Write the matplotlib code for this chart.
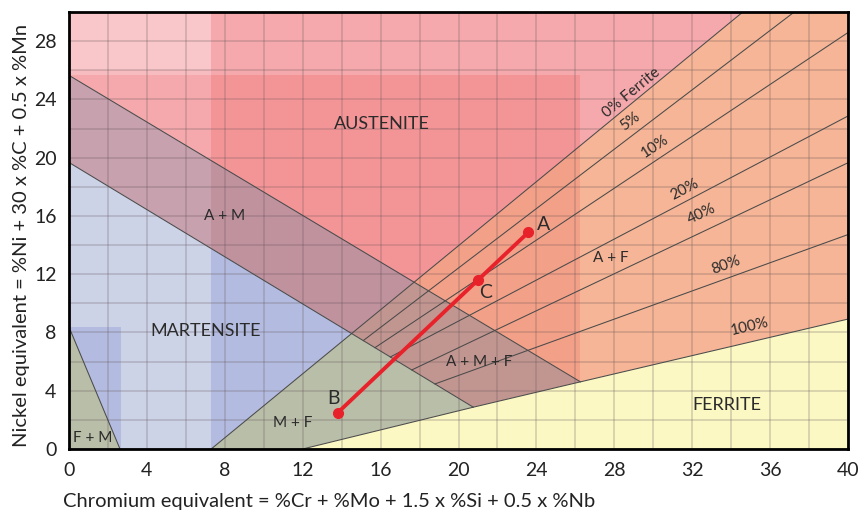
import numpy as np
import matplotlib.pyplot as plt
from matplotlib.patches import Polygon, Rectangle

plt.rcParams['font.family'] = ['Lato', 'DejaVu Sans']

# boundary lines (Cr equivalent, Ni equivalent)
am_top = [(0, 25.65), (26.26, 4.61)]      # upper limit of A + M
m_top = [(0, 19.67), (20.76, 2.87)]       # upper limit of martensite
ferrite0 = [(7.3, 0), (34.6, 30)]         # 0% ferrite line
ferrite100_x = [12, 20.76, 26.26, 40]
ferrite100_y = [0, 2.87, 4.61, 8.92]
fm_edge = [(0, 8.37), (2.62, 0)]

# iso-ferrite lines, start on m_top
iso_names = ['5%', '10%', '20%', '40%', '80%']
iso_start_x = [15.11, 15.71, 16.5, 17.6, 18.79]
iso_end_x = [37.24, 40, 40, 40, 40]
iso_end_y = [30, 28.59, 22.86, 19.65, 14.72]

# weld points
pt_names = ['B', 'C', 'A']
pt_cr = [13.79, 21.02, 23.59]
pt_ni = [2.48, 11.62, 14.88]

x_ticks = list(range(0, 41, 4))
y_ticks = list(range(0, 29, 4))


def line_y(seg, x):
    (x0, y0), (x1, y1) = seg
    return y0 + (y1 - y0) * (x - x0) / (x1 - x0)


def slope(seg):
    (x0, y0), (x1, y1) = seg
    return (y1 - y0) / (x1 - x0)


def cross(s1, s2):
    a1, a2 = slope(s1), slope(s2)
    b1 = s1[0][1] - a1 * s1[0][0]
    b2 = s2[0][1] - a2 * s2[0][0]
    x = (b2 - b1) / (a1 - a2)
    return (x, a1 * x + b1)


fig = plt.figure(figsize=(8.6, 5.15), dpi=100)
ax = fig.add_axes([69 / 860, 1 - 449 / 515, (848 - 69) / 860, (449 - 12) / 515])
ax.set_xlim(0, 40)
ax.set_ylim(0, 30)

p_m0 = cross(m_top, ferrite0)
p_am0 = cross(am_top, ferrite0)
f100 = list(zip(ferrite100_x, ferrite100_y))

dark_box = (7.3, 0, 26.26 - 7.3, 25.65)


def region(pts, base, shades=()):
    ax.add_patch(Polygon(pts, closed=True, fc=base, ec='none', zorder=1))
    for (x0, y0, w, h), c in shades:
        p = Polygon(pts, closed=True, fc=c, ec='none', zorder=1)
        ax.add_patch(p)
        p.set_clip_path(Rectangle((x0, y0), w, h, transform=ax.transData))


# phase fields
region([am_top[0], (0, 30), ferrite0[1], p_am0], '#f5a9ac',
       [((0, 26.0, 7.3, 4), '#f9c6c9'), ((0, 25.65, 7.3, 0.35), '#f7bcbf'),
        (dark_box, '#f39597')])
region([m_top[0], am_top[0], p_am0, p_m0], '#c8a1ae', [(dark_box, '#c0929e')])
region([p_m0, p_am0, am_top[1], m_top[1]], '#c29690')
region([p_am0, ferrite0[1], (40, 30), (40, ferrite100_y[-1]), am_top[1]], '#f5b596',
       [(dark_box, '#f2a088')])
region([(0, 0), m_top[0], p_m0, ferrite0[0]], '#cdd3e7',
       [(dark_box, '#b3bce0'), ((0, 0, 2.65, 8.4), '#b3bce0')])
region([ferrite0[0], p_m0, m_top[1], (12, 0)], '#b9bea8')
region([(0, 0), fm_edge[0], fm_edge[1]], '#b9bea8')
region(f100 + [(40, 0)], '#fbf8c4')

# boundary lines
lc = '#4a4a4a'
lw = 0.75
for seg in [am_top, m_top, ferrite0, fm_edge]:
    ax.plot([seg[0][0], seg[1][0]], [seg[0][1], seg[1][1]], color=lc, lw=lw, zorder=2)
ax.plot(ferrite100_x, ferrite100_y, color=lc, lw=lw, zorder=2)
for sx, ex, ey in zip(iso_start_x, iso_end_x, iso_end_y):
    ax.plot([sx, ex], [line_y(m_top, sx), ey], color=lc, lw=lw, zorder=2)

# grid
ax.set_xticks(x_ticks)
ax.set_yticks(y_ticks)
ax.set_xticks(range(0, 41, 2), minor=True)
ax.set_yticks(range(0, 31, 2), minor=True)
ax.grid(True, which='both', color='#5e4e52', alpha=0.27, lw=1.1)
ax.tick_params(which='both', length=0)
ax.tick_params(axis='x', pad=9, labelsize=14, labelcolor='#222222')
ax.tick_params(axis='y', pad=9, labelsize=14, labelcolor='#222222')
for s in ax.spines.values():
    s.set_linewidth(2)
    s.set_color('black')
    s.set_zorder(5)

# iso-ferrite labels
tc = '#2b2b2b'
fan_labels = ['0% Ferrite', '5%', '10%', '20%', '40%', '80%', '100%']
fan_x = [28.9, 28.8, 30.09, 31.63, 32.5, 33.74, 34.97]
fan_y = [24.48, 22.49, 20.77, 17.81, 16.1, 12.59, 8.39]
fan_slopes = [slope(ferrite0)]
for sx, ex, ey in zip(iso_start_x, iso_end_x, iso_end_y):
    fan_slopes.append((ey - line_y(m_top, sx)) / (ex - sx))
fan_slopes.append(slope([f100[2], f100[3]]))
for t, x, y, s in zip(fan_labels, fan_x, fan_y, fan_slopes):
    ax.text(x, y, t, rotation=np.degrees(np.arctan(s)), transform_rotates_text=True,
            rotation_mode='anchor', ha='center', va='center', fontsize=11,
            color=tc, zorder=3)

# phase labels
ax.text(16.07, 22.3, 'AUSTENITE', fontsize=13, ha='center', va='center', color=tc)
ax.text(7.0, 8.1, 'MARTENSITE', fontsize=13, ha='center', va='center', color=tc)
ax.text(33.8, 3.0, 'FERRITE', fontsize=13, ha='center', va='center', color=tc)
ax.text(8.0, 16.0, 'A + M', fontsize=11, ha='center', va='center', color=tc)
ax.text(27.8, 13.1, 'A + F', fontsize=11, ha='center', va='center', color=tc)
ax.text(21.05, 6.0, 'A + M + F', fontsize=11, ha='center', va='center', color=tc)
ax.text(11.5, 1.8, 'M + F', fontsize=11, ha='center', va='center', color=tc)
ax.text(1.2, 0.75, 'F + M', fontsize=11, ha='center', va='center', color=tc)

# weld line
ax.plot([pt_cr[0], pt_cr[2]], [pt_ni[0], pt_ni[2]], color='#e8222b', lw=2.8, zorder=4,
        solid_capstyle='round')
ax.plot(pt_cr, pt_ni, 'o', color='#e8222b', ms=7, zorder=4)
offsets = {'B': (-0.2, 1.0), 'C': (0.35, -0.85), 'A': (0.8, 0.55)}
for n, x, y in zip(pt_names, pt_cr, pt_ni):
    dx, dy = offsets[n]
    ax.text(x + dx, y + dy, n, fontsize=14, ha='center', va='center', color=tc, zorder=4)

fig.text(63 / 860, 1 - 502 / 515, 'Chromium equivalent = %Cr + %Mo + 1.5 x %Si + 0.5 x %Nb',
         fontsize=14.5, ha='left', va='center', color='#222222')
fig.text(22 / 860, 1 - 235 / 515, 'Nickel equivalent = %Ni + 30 x %C + 0.5 x %Mn',
         fontsize=14.5, rotation=90, ha='center', va='center', color='#222222')

fig.savefig('out.png', dpi=100)
